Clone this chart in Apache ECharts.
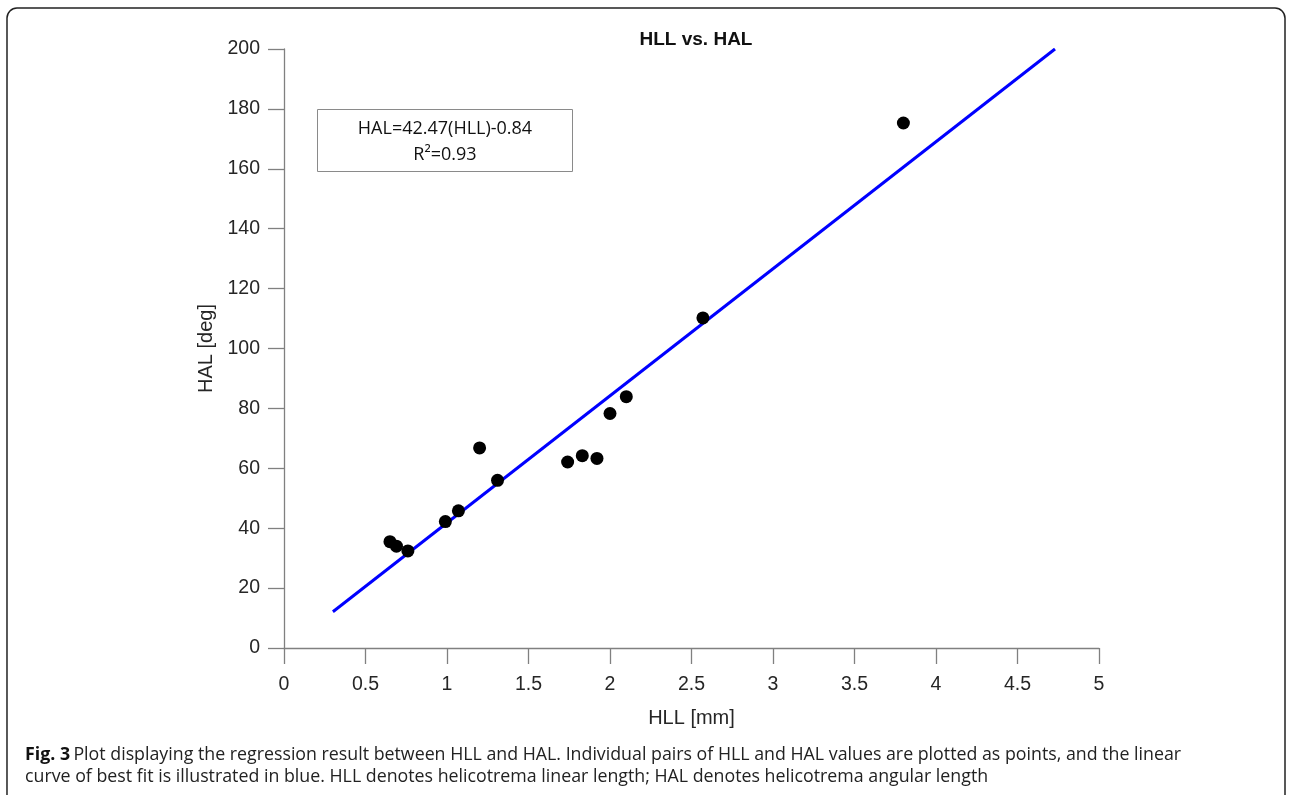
<!DOCTYPE html>
<html>
<head>
<meta charset="utf-8">
<script src="https://cdn.jsdelivr.net/npm/echarts@6/dist/echarts.min.js"></script>
<style>
  html, body { margin: 0; padding: 0; background: #fff; }
  #chart { width: 1292px; height: 795px; }
</style>
</head>
<body>
<div id="chart"></div>
<script>
// HLL [mm] vs HAL [deg]
var hllValues = [0.65, 0.69, 0.76, 0.99, 1.07, 1.20, 1.31, 1.74, 1.83, 1.92, 2.00, 2.10, 2.57, 3.80]
var halValues = [35.5, 34.0, 32.4, 42.2, 45.8, 66.8, 56.0, 62.1, 64.2, 63.3, 78.3, 83.9, 110.2, 175.3]
// best fit line end points
var fitHll = [0.30, 4.73]
var fitHal = [12.1, 200]
var xTicks = [0, 0.5, 1, 1.5, 2, 2.5, 3, 3.5, 4, 4.5, 5]
var yTicks = [0, 20, 40, 60, 80, 100, 120, 140, 160, 180, 200]

var chart = echarts.init(document.getElementById('chart'))

var axisGray = '#808080'
var labelColor = '#262626'

chart.setOption({
  backgroundColor: '#fff',
  animation: false,
  title: {
    text: 'HLL vs. HAL',
    left: 691,
    textAlign: 'center',
    top: 25,
    textStyle: {
      fontFamily: 'Liberation Sans',
      fontSize: 19,
      fontWeight: 'bold',
      color: '#111'
    }
  },
  grid: {
    left: 284,
    right: 193,
    top: 49,
    bottom: 147
  },
  xAxis: {
    type: 'value',
    min: xTicks[0],
    max: xTicks[xTicks.length - 1],
    interval: 0.5,
    name: 'HLL [mm]',
    nameLocation: 'middle',
    nameGap: 60,
    nameTextStyle: { fontFamily: 'Liberation Sans', fontSize: 20, color: labelColor },
    splitLine: { show: false },
    axisLine: { onZero: false, lineStyle: { color: axisGray, width: 1.3 } },
    axisTick: { length: 16, lineStyle: { color: axisGray, width: 1.3 } },
    axisLabel: { margin: 27, fontFamily: 'Liberation Sans', fontSize: 19.5, color: labelColor }
  },
  yAxis: {
    type: 'value',
    min: yTicks[0],
    max: yTicks[yTicks.length - 1],
    interval: 20,
    name: 'HAL [deg]',
    nameLocation: 'middle',
    nameGap: 64,
    nameTextStyle: { fontFamily: 'Liberation Sans', fontSize: 20, color: labelColor },
    splitLine: { show: false },
    axisLine: { show: true, onZero: false, lineStyle: { color: axisGray, width: 1.3 } },
    axisTick: { show: true, length: 16, lineStyle: { color: axisGray, width: 1.3 } },
    axisLabel: { margin: 24, fontFamily: 'Liberation Sans', fontSize: 19.5, color: labelColor }
  },
  series: [{
    name: 'fit',
    type: 'line',
    data: fitHll.map(function (x, i) { return [x, fitHal[i]] }),
    symbol: 'none',
    lineStyle: { color: '#0000ff', width: 3 },
    z: 2
  }, {
    name: 'pairs',
    type: 'scatter',
    data: hllValues.map(function (x, i) { return [x, halValues[i]] }),
    symbol: 'circle',
    symbolSize: 13,
    itemStyle: { color: '#000', opacity: 1 },
    z: 3
  }],
  graphic: [{
    // outer frame of the figure
    type: 'rect',
    shape: { x: 7, y: 8, width: 1278, height: 820, r: 10 },
    style: { fill: 'none', stroke: '#222', lineWidth: 1.5 },
    silent: true
  }, {
    // equation box
    type: 'rect',
    shape: { x: 317.5, y: 109.5, width: 255, height: 62 },
    style: { fill: '#fff', stroke: '#8a8a8a', lineWidth: 1 },
    z: 10
  }, {
    type: 'text',
    x: 445,
    y: 129,
    style: {
      text: 'HAL=42.47(HLL)-0.84',
      fontFamily: 'Open Sans',
      fontSize: 18,
      fill: '#111',
      align: 'center',
      verticalAlign: 'middle'
    },
    z: 11
  }, {
    type: 'text',
    x: 445,
    y: 155,
    style: {
      text: 'R²=0.93',
      fontFamily: 'Open Sans',
      fontSize: 18,
      fill: '#111',
      align: 'center',
      verticalAlign: 'middle'
    },
    z: 11
  }, {
    type: 'text',
    x: 25,
    y: 755,
    style: {
      rich: {
        b: { fontFamily: 'Open Sans', fontSize: 17.8, fontWeight: 'bold', fill: '#111' },
        n: { fontFamily: 'Open Sans', fontSize: 17.8, fill: '#222' }
      },
      text: '{b|Fig. 3} {n|Plot displaying the regression result between HLL and HAL. Individual pairs of HLL and HAL values are plotted as points, and the linear}',
      verticalAlign: 'middle'
    }
  }, {
    type: 'text',
    x: 25,
    y: 777,
    style: {
      text: 'curve of best fit is illustrated in blue. HLL denotes helicotrema linear length; HAL denotes helicotrema angular length',
      fontFamily: 'Open Sans',
      fontSize: 17.8,
      fill: '#222',
      verticalAlign: 'middle'
    }
  }]
})
</script>
</body>
</html>
